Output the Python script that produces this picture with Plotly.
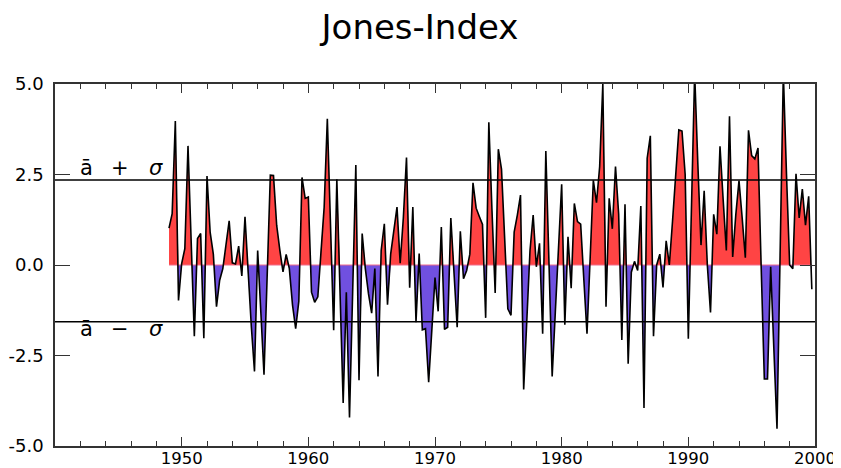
import plotly.graph_objects as go

# ---------------- data ----------------
start_year = 1949.0
steps_per_year = 4  # seasonal values

jones_index = [
    1.02, 1.42, 3.98, -0.98, 0.04, 0.45, 3.29, 0.6, -1.97, 0.73,
    0.87, -2.02, 2.46, 0.9, 0.3, -1.15, -0.42, -0.1, 0.5, 1.22,
    0.06, 0.03, 0.52, -0.3, 1.33, -0.35, -1.7, -2.94, 0.4, -1.3,
    -3.03, -0.3, 2.48, 2.47, 1.1, 0.41, -0.19, 0.29, -0.1, -1.1,
    -1.76, -1.0, 2.42, 1.84, 1.88, -0.75, -1.03, -0.88, 0.5, 1.6,
    4.04, 1.2, -1.8, 2.37, -0.72, -3.81, -0.75, -4.21, -0.74, 2.76,
    -3.18, 0.87, -0.1, -0.8, -1.33, -0.1, -3.08, 0.4, 1.14, -1.1,
    0.3, 1.0, 1.6, 0.05, 1.3, 2.97, -0.63, 1.6, -1.58, 0.32,
    -1.79, -1.76, -3.24, -1.8, -0.35, -1.28, 1.05, -1.78, -1.72, 1.3,
    -0.2, -1.72, 0.93, -0.38, -0.15, 0.3, 2.27, 1.57, 1.34, 1.12,
    -1.46, 3.94, 1.5, -0.77, 3.2, 2.65, 0.73, -1.21, -1.39, 0.91,
    1.38, 1.93, -3.44, -1.3, 0.4, 1.38, -0.05, 0.6, -1.9, 3.15,
    0.0, -3.08, -1.3, 0.4, 2.23, -1.65, 0.78, -0.64, 1.7, 1.2,
    1.13, -0.4, -1.9, 0.2, 2.34, 1.72, 2.72, 5.0, -1.15, 1.84,
    1.0, 2.72, 1.4, -2.07, 1.68, -2.73, -0.2, 0.1, -0.15, 1.63,
    -3.95, 2.95, 3.57, -1.97, 0.0, 0.3, -0.62, 0.67, 0.0, 1.2,
    2.4, 3.73, 3.7, 2.5, -2.04, 1.5, 5.3, 2.8, 0.55, 2.05,
    0.0, -1.31, 1.4, 0.85, 3.28, 1.8, 0.4, 4.11, 0.22, 1.4,
    2.33, 1.3, 0.2, 3.72, 3.02, 2.93, 3.23, -0.05, -3.15, -3.15,
    -0.05, -2.3, -4.52, 0.4, 5.3, 2.5, 0.0, -0.1, 2.52, 1.3,
    2.1, 1.1, 1.9, -0.67,
]

mean_plus_sigma = 2.35
mean_minus_sigma = -1.57

x_tick_values = [1950, 1960, 1970, 1980, 1990, 2000]
x_tick_labels = ["1950", "1960", "1970", "1980", "1990", "2000"]
y_tick_values = [5.0, 2.5, 0.0, -2.5, -5.0]
y_tick_labels = ["5.0", "2.5", "0.0", "-2.5", "-5.0"]

title_text = "Jones-Index"

# ---------------- derived series ----------------
years = [start_year + k / steps_per_year for k in range(len(jones_index))]

# insert zero crossings so the red / blue fills meet exactly at 0
aug_x, aug_y = [], []
for k in range(len(years)):
    aug_x.append(years[k])
    aug_y.append(jones_index[k])
    if k < len(years) - 1:
        a, b = jones_index[k], jones_index[k + 1]
        if a * b < 0:
            t = a / (a - b)
            aug_x.append(years[k] + t * (years[k + 1] - years[k]))
            aug_y.append(0.0)
pos_part = [max(v, 0.0) for v in aug_y]
neg_part = [min(v, 0.0) for v in aug_y]

RED = "#ff4444"
BLUE = "#7050e0"
FONT = "DejaVu Sans, Liberation Sans, Arial, sans-serif"

fig = go.Figure()
fig.add_trace(go.Scatter(x=aug_x, y=pos_part, mode="lines", line=dict(width=0, color=RED),
                         fill="tozeroy", fillcolor=RED, hoverinfo="skip", showlegend=False))
fig.add_trace(go.Scatter(x=aug_x, y=neg_part, mode="lines", line=dict(width=0, color=BLUE),
                         fill="tozeroy", fillcolor=BLUE, hoverinfo="skip", showlegend=False))
# thin zero baseline under the data
fig.add_trace(go.Scatter(x=[years[0], years[-1]], y=[0, 0], mode="lines",
                         line=dict(width=1, color="#f06a8a"), hoverinfo="skip", showlegend=False))
fig.add_trace(go.Scatter(x=years, y=jones_index, mode="lines",
                         line=dict(width=1.6, color="black"), showlegend=False, name="Jones-Index"))

for lvl in (mean_plus_sigma, mean_minus_sigma):
    fig.add_shape(type="line", xref="paper", x0=0, x1=1, yref="y", y0=lvl, y1=lvl,
                  line=dict(color="black", width=1.5), layer="above")

# labels  ā + σ   and   ā − σ
label_font = dict(family=FONT, size=21, color="black")
for yv, sign in ((2.68, "+"), (-1.78, "\u2212")):
    for xv, txt in ((1942.5, "\u0101"), (1945.1, sign), (1948.0, "<i>\u03c3</i>")):
        fig.add_annotation(x=xv, y=yv, xref="x", yref="y", text=txt, showarrow=False,
                           font=label_font, xanchor="center", yanchor="middle")

axis_color = "#333333"
# the page body adds an 8 px offset; size/margins compensate so the plot frame
# sits at x 55..815, y 84..446 of the 841x468 window
fig.update_layout(
    width=833, height=460,
    margin=dict(l=47, r=26, t=76, b=22),
    paper_bgcolor="white", plot_bgcolor="white",
    title=dict(text=title_text, x=0.4946, xref="container", xanchor="center",
               y=0.985, yref="container", yanchor="top",
               font=dict(family=FONT, size=34, color="black")),
    xaxis=dict(range=[1940, 2000], tickmode="array", tickvals=x_tick_values, ticktext=x_tick_labels,
               ticks="inside", ticklen=9, tickwidth=1.3, tickcolor=axis_color,
               showline=True, linecolor=axis_color, linewidth=1.6, mirror="allticks",
               showgrid=False, zeroline=False, automargin=False, ticklabelstandoff=-4,
               minor=dict(tickmode="linear", tick0=1940, dtick=2, ticks="inside", ticklen=5,
                          tickwidth=1.2, tickcolor=axis_color, showgrid=False),
               tickfont=dict(family=FONT, size=16.5, color="black")),
    yaxis=dict(range=[-5, 5], tickmode="array", tickvals=y_tick_values, ticktext=y_tick_labels,
               ticks="inside", ticklen=15, tickwidth=1.3, tickcolor=axis_color,
               showline=True, linecolor=axis_color, linewidth=1.6, mirror="allticks",
               showgrid=False, zeroline=False, automargin=False, ticklabelstandoff=6,
               tickfont=dict(family=FONT, size=18, color="black")),
)

fig.write_html("out.html")
